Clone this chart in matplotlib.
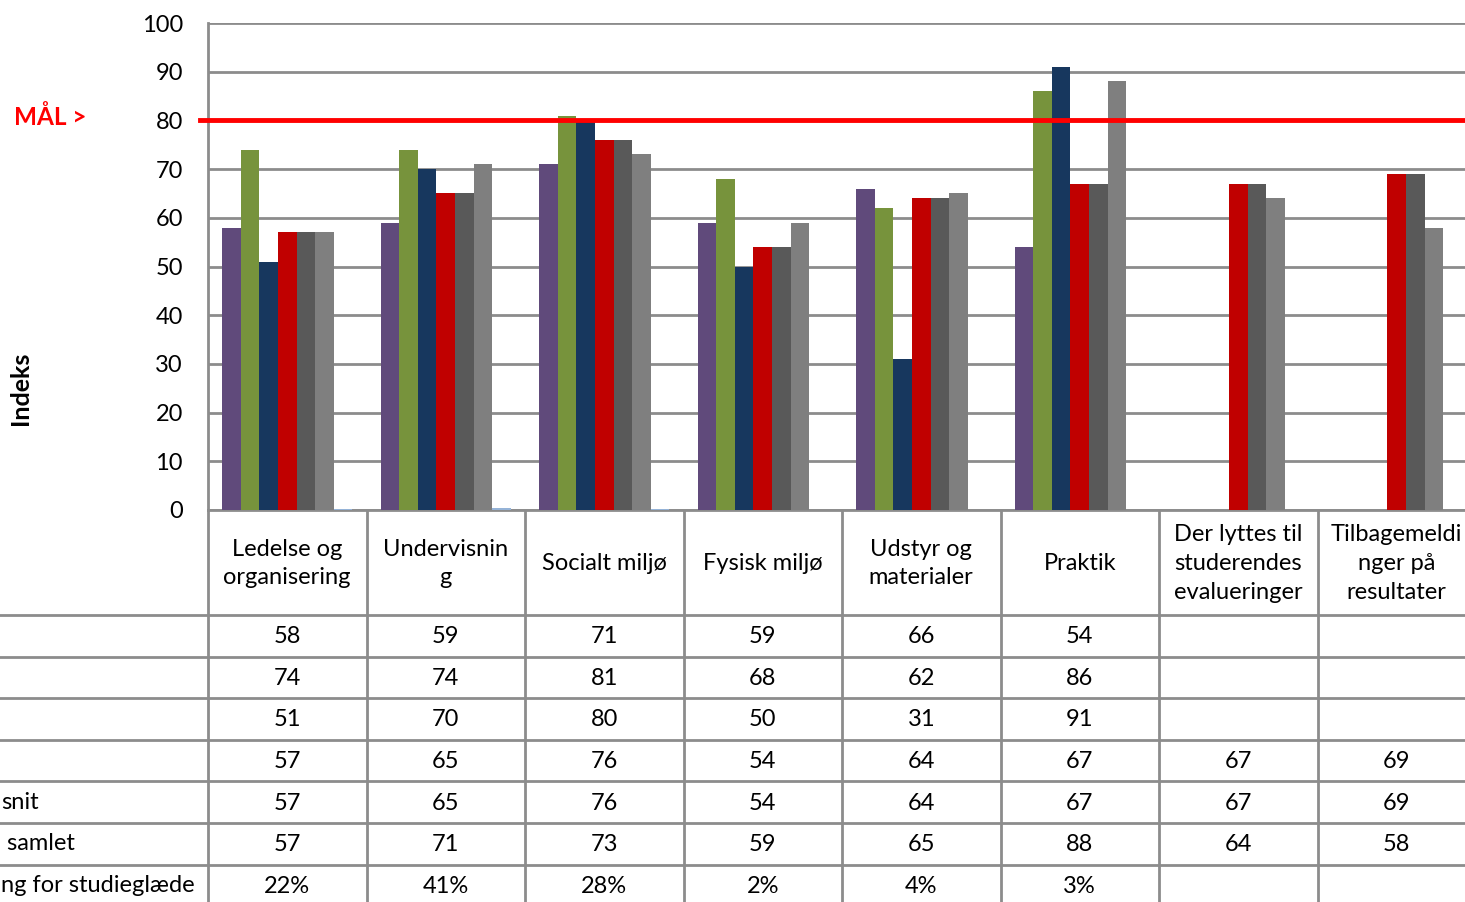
import matplotlib.pyplot as plt
import numpy as np

plt.rcParams['font.family'] = ['Lato', 'DejaVu Sans']

categories = ['Ledelse og\norganisering', 'Undervisnin\ng', 'Socialt miljø', 'Fysisk miljø',
              'Udstyr og\nmaterialer', 'Praktik', 'Der lyttes til\nstuderendes\nevalueringer',
              'Tilbagemeldi\nnger på\nresultater']

# series (None = no value in table)
s_purple = [58, 59, 71, 59, 66, 54, None, None]
s_green = [74, 74, 81, 68, 62, 86, None, None]
s_navy = [51, 70, 80, 50, 31, 91, None, None]
s_red = [57, 65, 76, 54, 64, 67, 67, 69]
s_gennemsnit = [57, 65, 76, 54, 64, 67, 67, 69]
s_samlet = [57, 71, 73, 59, 65, 88, 64, 58]
s_betydning = [0.22, 0.41, 0.28, 0.02, 0.04, 0.03, None, None]

# only the visible tail of the row labels (the rest is cut off in the source)
row_labels = ['', '', '', '', 'snit', ' samlet', 'ng for studieglæde']
series = [s_purple, s_green, s_navy, s_red, s_gennemsnit, s_samlet, s_betydning]
colors = ['#604A7B', '#77933C', '#17375E', '#C00000', '#595959', '#7F7F7F', '#95B3D7']
goal = 80

W, H = 1465, 902
left_px, cat_w = 208, 158.5
top_px, base_px = 23, 510
n_cat = len(categories)
right_px = left_px + n_cat * cat_w
grid_c = '#8C8C8C'
fs = 17

fig = plt.figure(figsize=(W / 100, H / 100), dpi=100)

# overlay in pixel coords for the data table
ov = fig.add_axes([0, 0, 1, 1])
ov.set_xlim(0, W)
ov.set_ylim(H, 0)
ov.axis('off')

ax = fig.add_axes([left_px / W, (H - base_px) / H, (right_px - left_px) / W, (base_px - top_px) / H])
ax.set_zorder(2)

x = np.arange(n_cat)
bw = 0.117
nser = len(series)
for i, (vals, c) in enumerate(zip(series, colors)):
    xs = [xi + (i - (nser - 1) / 2) * bw for xi, v in zip(x, vals) if v is not None]
    hs = [v for v in vals if v is not None]
    ax.bar(xs, hs, width=bw, color=c, edgecolor='none', zorder=3)

ax.set_xlim(-0.5, n_cat - 0.5)
ax.set_ylim(0, 100)
ax.set_yticks(range(0, 101, 10))
ax.yaxis.grid(True, color=grid_c, linewidth=2)
ax.set_axisbelow(True)
ax.set_xticks([])
for sp in ['top', 'right']:
    ax.spines[sp].set_visible(False)
ax.spines['left'].set_color(grid_c)
ax.spines['left'].set_linewidth(2)
ax.spines['bottom'].set_color(grid_c)
ax.spines['bottom'].set_linewidth(2)
ax.tick_params(axis='y', length=0, labelsize=fs, pad=18)
ax.axhline(goal, xmin=-0.006, xmax=1, color='#FF0000', linewidth=3.5, zorder=4, clip_on=False)

ov.text(50, 117, 'MÅL >', color='#FF0000', fontsize=17.5, fontweight='bold', ha='center', va='center')
ov.text(20, 388, 'Indeks', fontsize=18, fontweight='bold', rotation=90, ha='center', va='center')

# data table
header_h, row_h = 105, 41.6
row_top = base_px + header_h
for k in range(len(series) + 1):
    y = row_top + k * row_h
    ov.plot([0, W], [y, y], color=grid_c, linewidth=2)
for j in range(n_cat + 1):
    xv = left_px + j * cat_w
    ov.plot([xv, xv], [base_px, H], color=grid_c, linewidth=2)

for j, cat in enumerate(categories):
    cx = left_px + (j + 0.5) * cat_w
    ov.text(cx, base_px + header_h / 2 + 1, cat, ha='center', va='center', fontsize=fs, linespacing=1.45)
    for k, vals in enumerate(series):
        v = vals[j]
        if v is None:
            continue
        txt = f'{v:.0%}' if k == len(series) - 1 else str(v)
        ov.text(cx, row_top + (k + 0.5) * row_h + 1, txt, ha='center', va='center', fontsize=fs)

for k, lab in enumerate(row_labels):
    ov.text(1, row_top + (k + 0.5) * row_h, lab, ha='left', va='center', fontsize=fs)

fig.savefig('out.png', dpi=100)
